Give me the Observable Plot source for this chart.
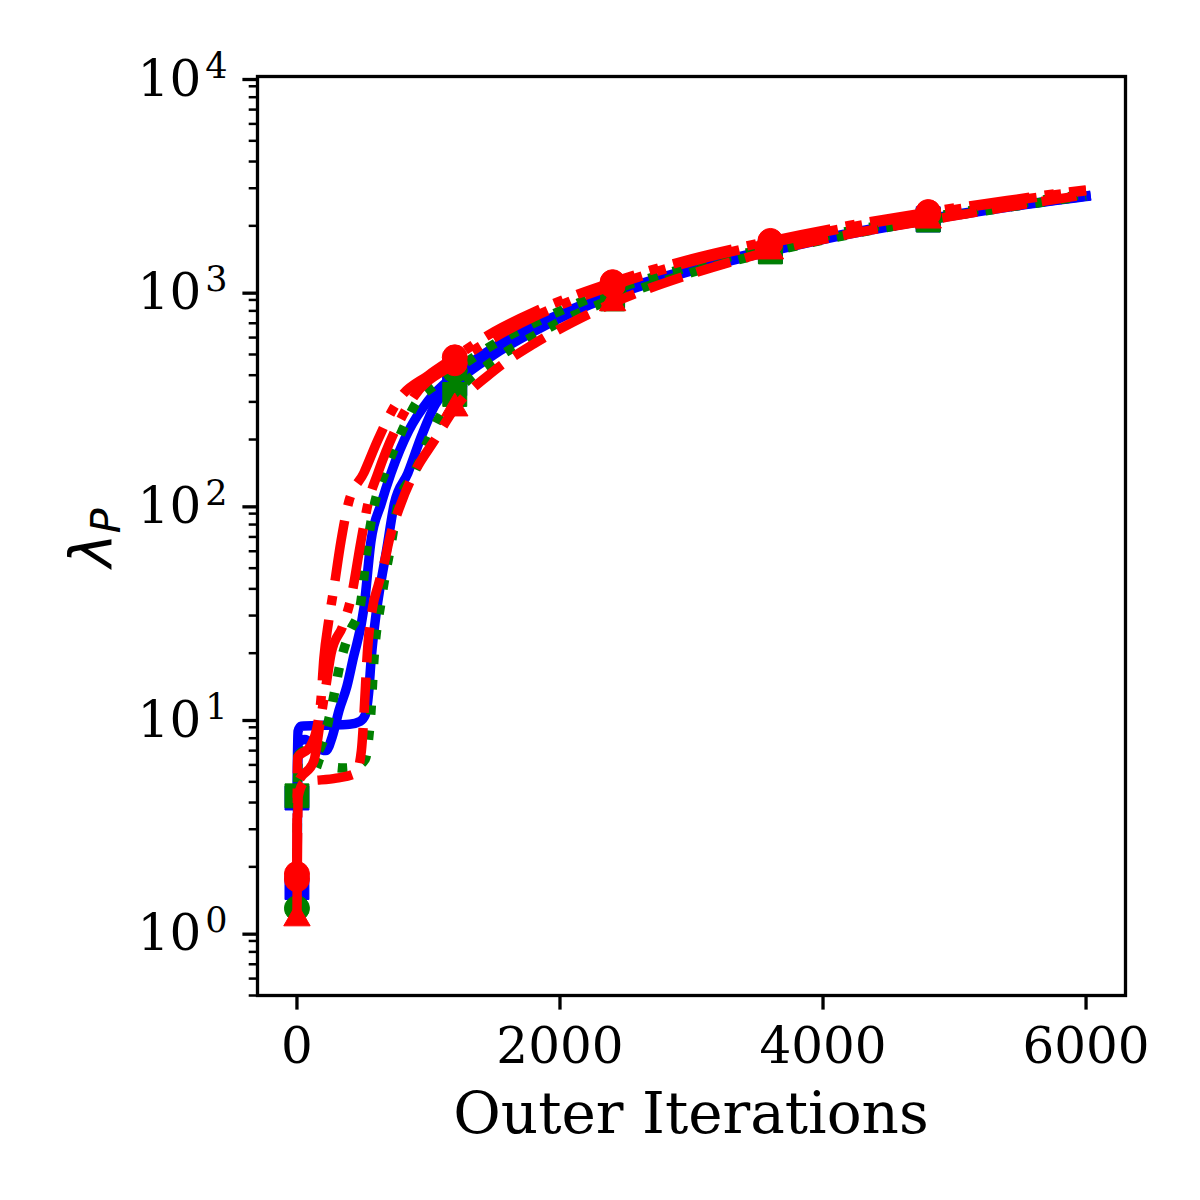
<!DOCTYPE html>
<html><head><meta charset="utf-8">
<script src="https://cdn.jsdelivr.net/npm/d3@7"></script>
<script src="https://cdn.jsdelivr.net/npm/@observablehq/plot@0.6"></script>
<style>body{margin:0;background:#fff}</style>
</head><body><div id="chart"></div>
<script>
// ---- tick values ----
const xTicks = [0, 2000, 4000, 6000];
const yMajor = [1, 10, 100, 1000, 10000];
const yMinor = [0.5, 0.6, 0.7, 0.8, 0.9,
  2, 3, 4, 5, 6, 7, 8, 9,
  20, 30, 40, 50, 60, 70, 80, 90,
  200, 300, 400, 500, 600, 700, 800, 900,
  2000, 3000, 4000, 5000, 6000, 7000, 8000, 9000];
const markerIters = [0, 1200, 2400, 3600, 4800];
const tail_x = [1500, 1800, 2100, 2400, 3000, 3600, 4200, 4800, 5400, 6000];

// ---- series (iterations, lambda_P) ----
const blueA_x = [0, 8, 30, 200, 400, 480, 520, 545, 565, 600, 630, 680, 740, 843, 950, 1050, 1200, ...tail_x];
const blueA_y = [4.2, 8.6, 9.1, 9.2, 9.3, 9.6, 10.3, 13, 19, 30, 40, 60, 100, 139, 210, 290, 365,
  500, 640, 790, 940, 1230, 1520, 1830, 2130, 2440, 2740];

const blueB_x = [0, 8, 60, 150, 220, 270, 320, 380, 425, 510, 563, 640, 715, 850, 1000, 1200, ...tail_x];
const blueB_y = [1.6, 7.6, 7.9, 7.2, 7.0, 8.2, 10.8, 14, 18.6, 32.8, 67, 100, 139, 220, 305, 400,
  540, 680, 820, 970, 1260, 1550, 1850, 2160, 2460, 2760];

const greenC_x = [0, 8, 60, 150, 200, 258, 335, 400, 480, 540, 590, 667, 800, 920, 1050, 1200, ...tail_x];
const greenC_y = [1.28, 6.6, 7.0, 6.9, 7.8, 10.8, 18.6, 25, 33, 67, 100, 139, 220, 305, 360, 420,
  560, 700, 850, 1000, 1290, 1580, 1890, 2190, 2500, 2810];

const greenD_x = [0, 10, 80, 200, 350, 450, 520, 545, 563, 585, 640, 720, 770, 890, 1000, 1100, 1200, ...tail_x];
const greenD_y = [4.3, 6.2, 6.4, 6.0, 5.8, 5.9, 6.4, 8, 10.8, 18.6, 35, 67, 100, 139, 200, 265, 325,
  470, 610, 760, 910, 1210, 1510, 1820, 2130, 2440, 2760];

const redF_x = [0, 10, 60, 300, 450, 490, 510, 535, 576, 620, 670, 700, 790, 890, 1050, 1200, ...tail_x];
const redF_y = [1.15, 4.3, 5.0, 5.2, 5.5, 7, 10.5, 20, 33, 42, 55, 67, 100, 139, 200, 280,
  420, 560, 710, 870, 1190, 1520, 1830, 2120, 2450, 2800];

const redH_x = [0, 5, 100, 160, 182, 205, 240, 280, 335, 390, 510, 615, 770, 1000, 1200, ...tail_x];
const redH_y = [1.85, 6.5, 7.3, 9.5, 12, 19, 28, 40, 67, 100, 140, 199, 305, 400, 485,
  640, 790, 940, 1090, 1400, 1700, 2010, 2320, 2630, 2950];

const redI_x = [0, 5, 130, 175, 220, 260, 350, 410, 487, 540, 615, 870, 1200, ...tail_x];
const redI_y = [1.75, 4.9, 6.3, 9.4, 14, 20, 27, 36, 67, 100, 139, 305, 455,
  600, 750, 900, 1050, 1360, 1660, 1970, 2280, 2600, 2920];

// ---- styles (drawing order: blue, green, red) ----
const LW = 9.5;
const DOTTED = [LW * 1, LW * 1.65].join(",");
const DASHED = [LW * 3.7, LW * 1.6].join(",");
const DASHDOT = [LW * 6.4, LW * 1.6, LW * 1, LW * 1.6].join(",");
const series = [
  {xs: blueA_x, ys: blueA_y, color: "#0000ff", dash: null, symbol: "square"},
  {xs: blueB_x, ys: blueB_y, color: "#0000ff", dash: null, symbol: "square"},
  {xs: greenC_x, ys: greenC_y, color: "#008000", dash: DOTTED, symbol: "circle"},
  {xs: greenD_x, ys: greenD_y, color: "#008000", dash: DOTTED, symbol: "square"},
  {xs: redF_x, ys: redF_y, color: "#ff0000", dash: DASHED, symbol: "triangle"},
  {xs: redI_x, ys: redI_y, color: "#ff0000", dash: DASHDOT, symbol: "circle"},
  {xs: redH_x, ys: redH_y, color: "#ff0000", dash: DASHDOT, symbol: "circle"}
];
const symR = {circle: 12.5, square: 13.5, triangle: 9.8};

const marks = [];
for (const s of series) {
  const data = s.xs.map((x, i) => ({x, y: s.ys[i]}));
  marks.push(Plot.line(data, {
    x: "x", y: "y", stroke: s.color, strokeWidth: LW,
    strokeDasharray: s.dash || undefined,
    strokeLinecap: s.dash ? "butt" : "square",
    strokeLinejoin: "round", curve: "monotone-x"
  }));
  const pts = data.filter(d => markerIters.includes(d.x));
  marks.push(Plot.dot(pts, {x: "x", y: "y", fill: s.color, stroke: s.color, strokeWidth: 1,
    symbol: s.symbol, r: symR[s.symbol]}));
}

const chart = Plot.plot({
  width: 1200, height: 1200,
  marginLeft: 257, marginRight: 75, marginTop: 76, marginBottom: 205,
  style: {fontFamily: "DejaVu Serif", background: "white", color: "black"},
  x: {domain: [-300, 6300]},
  y: {type: "log", domain: [0.5, 10000]},
  marks: [
    ...marks,
    Plot.frame({stroke: "black", strokeWidth: 3.3}),
    Plot.axisX(xTicks, {tickSize: 14.6, tickPadding: 17, fontSize: 50, strokeWidth: 3.3,
      tickFormat: d => String(d), label: null}),
    Plot.axisY(yMinor, {tickSize: 8.3, strokeWidth: 2.5, tickFormat: () => "", label: null}),
    Plot.axisY(yMajor, {tickSize: 14.6, tickPadding: 15.4, fontSize: 50, strokeWidth: 3.3,
      dy: 3, tickFormat: d => "10|" + Math.round(Math.log10(d)), label: null})
  ]
});

// superscript exponents on y tick labels
d3.select(chart).selectAll("text").each(function() {
  const t = this.textContent;
  if (t && t.startsWith("10|")) {
    const e = t.split("|")[1];
    const sel = d3.select(this);
    sel.text("10");
    sel.append("tspan").attr("dx", 4).attr("dy", -18).attr("font-size", 35).text(e);
  }
});

const svg = d3.select(chart);
svg.append("text")
  .attr("x", 691).attr("y", 1133)
  .attr("text-anchor", "middle")
  .attr("font-family", "DejaVu Serif").attr("font-size", 58)
  .attr("fill", "black")
  .text("Outer Iterations");

const yl = svg.append("text")
  .attr("transform", "translate(112,538) rotate(-90)")
  .attr("text-anchor", "middle")
  .attr("font-family", "DejaVu Sans").attr("font-style", "italic").attr("font-size", 58)
  .attr("fill", "black");
yl.append("tspan").text("λ");
yl.append("tspan").attr("font-size", 41).attr("dy", 8).text("P");

document.getElementById("chart").appendChild(chart);
</script>
</body></html>
